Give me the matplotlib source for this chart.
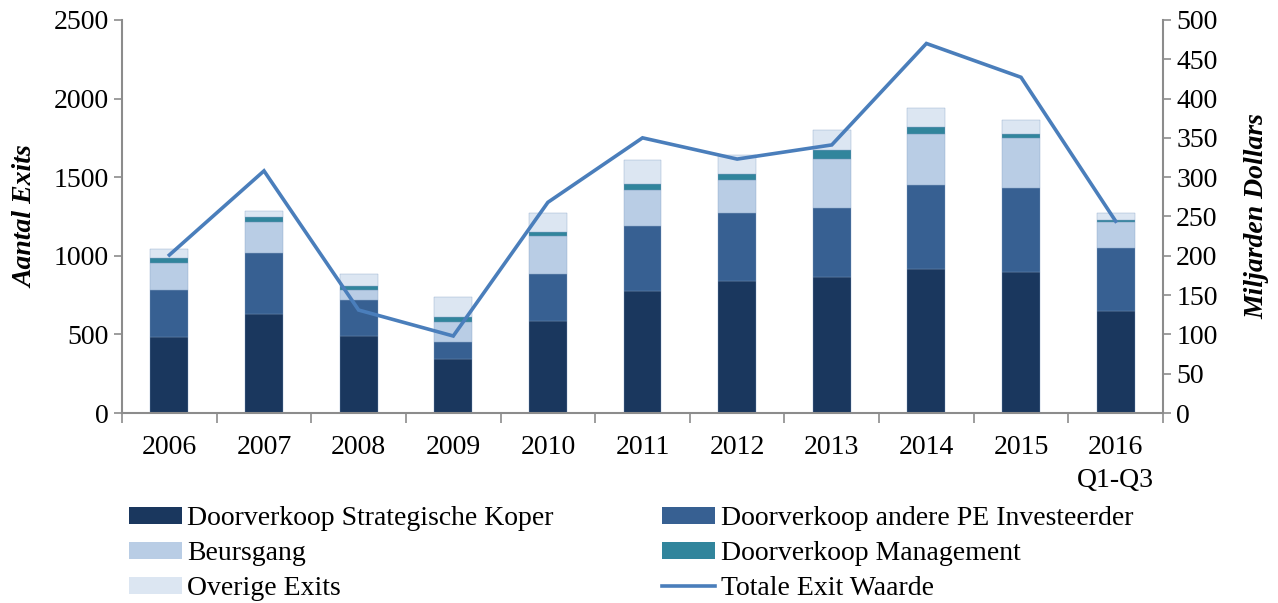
import matplotlib.pyplot as plt
import numpy as np
from matplotlib.patches import Patch
from matplotlib.lines import Line2D

plt.rcParams['font.family'] = ['Liberation Serif', 'DejaVu Serif']

# data
jaren = ["2006", "2007", "2008", "2009", "2010", "2011", "2012", "2013",
         "2014", "2015", "2016\nQ1-Q3"]
strategisch = [483, 627, 487, 343, 587, 779, 837, 866, 915, 894, 652]
pe_investeerder = [301, 392, 233, 108, 298, 412, 434, 435, 532, 538, 399]
beursgang = [173, 199, 64, 131, 238, 228, 212, 315, 328, 314, 161]
management = [32, 30, 25, 26, 29, 39, 38, 56, 41, 31, 17]
overige = [55, 38, 76, 131, 123, 152, 121, 129, 123, 87, 44]
exit_waarde = [201, 308, 131, 98, 268, 350, 323, 341, 470, 427, 244]

reeksen = [
    ("Doorverkoop Strategische Koper", strategisch, "#1A375E"),
    ("Doorverkoop andere PE Investeerder", pe_investeerder, "#376092"),
    ("Beursgang", beursgang, "#B9CDE5"),
    ("Doorverkoop Management", management, "#31859C"),
    ("Overige Exits", overige, "#DCE6F2"),
]
lijn_kleur = "#4A7EBB"
as_kleur = "#8C8C8C"
fs = 20

fig = plt.figure(figsize=(12.78, 6.03), dpi=100)
ax = fig.add_axes([0.0955, 0.315, 0.8145, 0.652])
x = np.arange(len(jaren))

bottom = np.zeros(len(jaren))
for naam, waarden, kleur in reeksen:
    ax.bar(x, waarden, width=0.40, bottom=bottom, color=kleur,
           edgecolor="#7F9CC0", linewidth=0.25, zorder=2)
    bottom += np.array(waarden)

ax.set_xlim(-0.5, len(jaren) - 0.5)
ax.set_ylim(0, 2500)
ax.set_yticks(range(0, 2501, 500))
ax.set_xticks(x)
ax.set_xticklabels(jaren, fontsize=fs, linespacing=1.4)
ax.tick_params(axis="x", length=0, pad=16)
ax.set_xticks(np.arange(-0.5, len(jaren), 1), minor=True)
ax.tick_params(axis="x", which="minor", length=7, color=as_kleur, width=1.2)
ax.tick_params(axis="y", labelsize=fs, length=6, color=as_kleur, width=1.2)
for kant in ["top", "right"]:
    ax.spines[kant].set_visible(False)
for kant in ["left", "bottom"]:
    ax.spines[kant].set_color(as_kleur)
    ax.spines[kant].set_linewidth(1.5)
ax.set_ylabel("Aantal Exits", fontsize=fs, fontweight="bold",
              fontstyle="italic", labelpad=11)

ax2 = ax.twinx()
ax2.plot(x, exit_waarde, color=lijn_kleur, linewidth=2.6, zorder=3,
         solid_joinstyle="miter")
ax2.set_ylim(0, 500)
ax2.set_yticks(range(0, 501, 50))
ax2.tick_params(axis="y", labelsize=fs, length=6, color=as_kleur, width=1.2)
for kant in ["top", "left", "bottom"]:
    ax2.spines[kant].set_visible(False)
ax2.spines["right"].set_color(as_kleur)
ax2.spines["right"].set_linewidth(1.5)
ax2.set_ylabel("Miljarden Dollars", fontsize=fs, fontweight="bold",
               fontstyle="italic", rotation=90, labelpad=19)

handles = [Patch(facecolor=k, edgecolor="none") for _, _, k in reeksen]
handles.append(Line2D([0], [0], color=lijn_kleur, linewidth=2.6))
labels = [n for n, _, _ in reeksen] + ["Totale Exit Waarde"]
# legend order: row by row in two columns
volgorde = [0, 2, 4, 1, 3, 5]
fig.legend([handles[i] for i in volgorde], [labels[i] for i in volgorde],
           ncol=2, loc="lower left", bbox_to_anchor=(0.088, -0.025),
           frameon=False, fontsize=fs, handlelength=1.9, handleheight=0.6,
           handletextpad=0.2, columnspacing=3.9, labelspacing=0.36,
           borderaxespad=0.2)

fig.savefig("out.png", dpi=100)
